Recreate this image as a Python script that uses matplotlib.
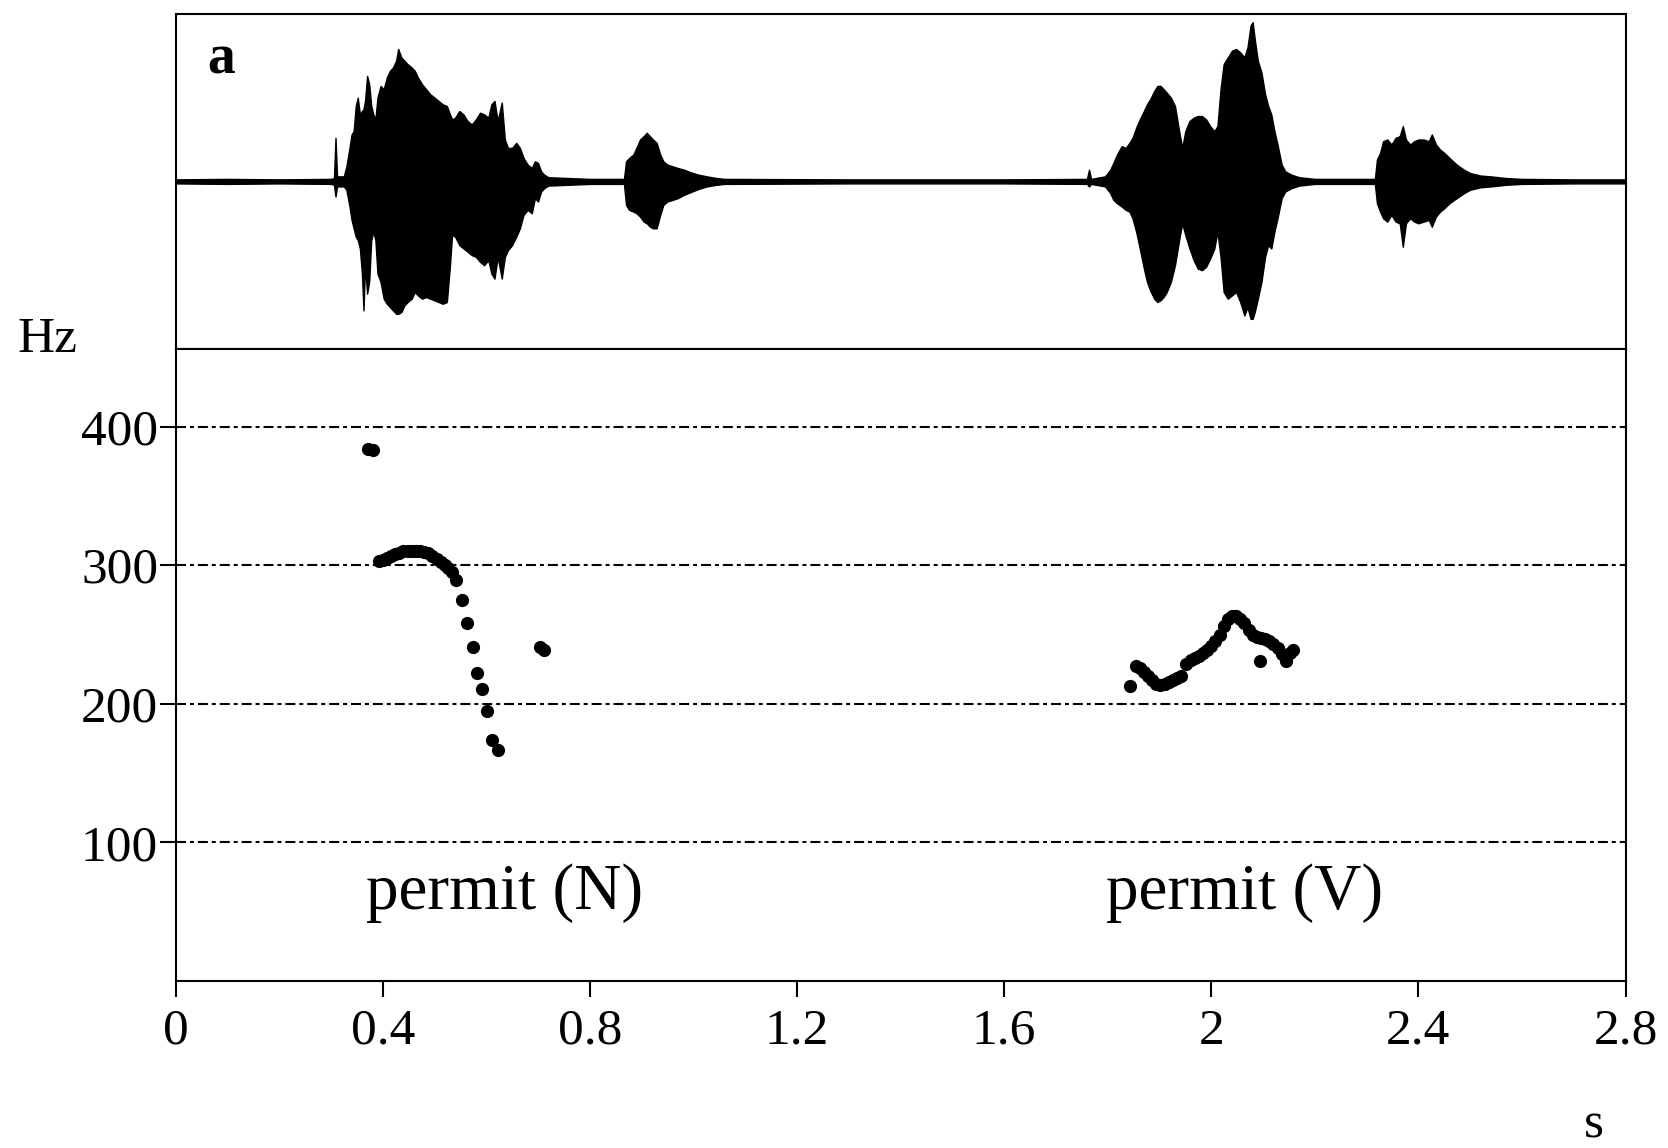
import matplotlib
matplotlib.use("Agg")
import matplotlib.pyplot as plt

plt.rcParams['font.family'] = ['Liberation Serif', 'DejaVu Serif']

# waveform envelope (time in s, upper / lower amplitude, normalised to +-1)
# each line of wave_t matches the same line in wave_top and wave_bot
wave_t = [
    0.000, 0.100, 0.200, 0.300, 0.306, 0.309, 0.312, 0.325, 0.330, 0.336,
    0.340, 0.344, 0.348, 0.352, 0.356, 0.360, 0.363, 0.366, 0.370, 0.374,
    0.378, 0.382, 0.386, 0.390, 0.396, 0.402, 0.408, 0.414, 0.420, 0.426,
    0.430, 0.436, 0.442, 0.448, 0.456, 0.462, 0.468, 0.476, 0.484, 0.492,
    0.500, 0.508, 0.516, 0.524, 0.530, 0.534, 0.540, 0.548, 0.556, 0.564,
    0.572, 0.580, 0.588, 0.596, 0.604, 0.610, 0.616, 0.622, 0.630, 0.636,
    0.642, 0.650, 0.658, 0.665, 0.672, 0.680, 0.688, 0.694, 0.700, 0.706,
    0.712, 0.720, 0.800, 0.866, 0.870, 0.876, 0.884, 0.890, 0.897, 0.904,
    0.910, 0.916, 0.922, 0.929, 0.936, 0.942, 0.950, 0.960, 0.970, 0.982,
    0.994, 1.010, 1.026, 1.045, 1.060, 1.300, 1.600, 1.760, 1.764, 1.768,
    1.795, 1.805, 1.811, 1.818, 1.827, 1.835, 1.842, 1.848, 1.855, 1.862,
    1.870, 1.876, 1.882, 1.890, 1.896, 1.902, 1.908, 1.914, 1.922, 1.930,
    1.938, 1.944, 1.950, 1.958, 1.966, 1.974, 1.982, 1.990, 1.998, 2.006,
    2.012, 2.018, 2.024, 2.032, 2.040, 2.048, 2.056, 2.064, 2.070, 2.076,
    2.080, 2.084, 2.090, 2.097, 2.104, 2.110, 2.116, 2.122, 2.128, 2.136,
    2.143, 2.155, 2.170, 2.200, 2.316, 2.320, 2.326, 2.332, 2.340, 2.348,
    2.356, 2.364, 2.370, 2.376, 2.384, 2.392, 2.400, 2.410, 2.420, 2.426,
    2.434, 2.442, 2.450, 2.460, 2.474, 2.488, 2.500, 2.520, 2.540, 2.570,
    2.600, 2.700, 2.800,
]
wave_top = [
    0.012, 0.015, 0.012, 0.015, 0.02, 0.26, 0.03, 0.03, 0.09, 0.20,
    0.28, 0.30, 0.45, 0.50, 0.40, 0.42, 0.43, 0.48, 0.63, 0.58,
    0.45, 0.40, 0.37, 0.50, 0.57, 0.55, 0.62, 0.66, 0.68, 0.72,
    0.79, 0.74, 0.72, 0.70, 0.68, 0.66, 0.62, 0.58, 0.55, 0.52,
    0.50, 0.48, 0.46, 0.45, 0.40, 0.37, 0.38, 0.42, 0.40, 0.36,
    0.34, 0.37, 0.41, 0.40, 0.38, 0.46, 0.48, 0.36, 0.47, 0.25,
    0.20, 0.20, 0.23, 0.20, 0.14, 0.10, 0.08, 0.12, 0.11, 0.06,
    0.04, 0.025, 0.015, 0.015, 0.12, 0.14, 0.16, 0.20, 0.25, 0.27,
    0.29, 0.27, 0.25, 0.23, 0.16, 0.12, 0.10, 0.09, 0.08, 0.07,
    0.055, 0.04, 0.03, 0.02, 0.015, 0.012, 0.012, 0.015, 0.07, 0.015,
    0.03, 0.07, 0.11, 0.16, 0.21, 0.20, 0.23, 0.26, 0.32, 0.37,
    0.42, 0.46, 0.49, 0.54, 0.57, 0.57, 0.55, 0.53, 0.50, 0.45,
    0.30, 0.20, 0.30, 0.36, 0.38, 0.39, 0.39, 0.37, 0.33, 0.30,
    0.33, 0.55, 0.70, 0.74, 0.78, 0.79, 0.77, 0.74, 0.80, 0.93,
    0.95, 0.85, 0.72, 0.65, 0.52, 0.45, 0.40, 0.30, 0.22, 0.10,
    0.06, 0.04, 0.025, 0.015, 0.015, 0.13, 0.17, 0.24, 0.25, 0.22,
    0.26, 0.27, 0.33, 0.25, 0.22, 0.24, 0.25, 0.25, 0.24, 0.28,
    0.22, 0.19, 0.17, 0.14, 0.10, 0.07, 0.05, 0.035, 0.03, 0.02,
    0.015, 0.012, 0.012,
]
wave_bot = [
    -0.012, -0.015, -0.012, -0.015, -0.02, -0.09, -0.03, -0.03, -0.05, -0.15,
    -0.23, -0.28, -0.33, -0.35, -0.40, -0.55, -0.77, -0.50, -0.67, -0.60,
    -0.35, -0.30, -0.35, -0.55, -0.60, -0.70, -0.73, -0.75, -0.77, -0.79,
    -0.79, -0.78, -0.74, -0.72, -0.70, -0.66, -0.68, -0.70, -0.69, -0.70,
    -0.71, -0.72, -0.73, -0.72, -0.50, -0.32, -0.33, -0.38, -0.40, -0.42,
    -0.44, -0.45, -0.48, -0.50, -0.47, -0.55, -0.58, -0.45, -0.58, -0.45,
    -0.41, -0.38, -0.33, -0.28, -0.20, -0.17, -0.19, -0.10, -0.12, -0.06,
    -0.04, -0.025, -0.015, -0.015, -0.14, -0.17, -0.18, -0.19, -0.21, -0.24,
    -0.25, -0.27, -0.28, -0.28, -0.20, -0.14, -0.12, -0.11, -0.10, -0.08,
    -0.065, -0.045, -0.03, -0.02, -0.015, -0.012, -0.012, -0.015, -0.03, -0.015,
    -0.03, -0.07, -0.11, -0.13, -0.15, -0.17, -0.18, -0.22, -0.30, -0.40,
    -0.52, -0.60, -0.65, -0.70, -0.72, -0.71, -0.69, -0.66, -0.60, -0.50,
    -0.35, -0.25, -0.32, -0.40, -0.47, -0.52, -0.53, -0.51, -0.46, -0.40,
    -0.30, -0.45, -0.66, -0.70, -0.68, -0.66, -0.72, -0.80, -0.75, -0.82,
    -0.82, -0.78, -0.70, -0.60, -0.45, -0.38, -0.40, -0.30, -0.22, -0.10,
    -0.06, -0.04, -0.025, -0.015, -0.015, -0.13, -0.18, -0.22, -0.24, -0.20,
    -0.24, -0.25, -0.39, -0.25, -0.22, -0.24, -0.25, -0.24, -0.23, -0.27,
    -0.21, -0.18, -0.16, -0.13, -0.10, -0.07, -0.05, -0.035, -0.03, -0.02,
    -0.015, -0.012, -0.012,
]

# F0 track, permit (N)
noun_t = [0.371, 0.381, 0.392, 0.400, 0.408, 0.416, 0.424, 0.432, 0.440, 0.448, 0.456,
          0.464, 0.472, 0.480, 0.488, 0.496, 0.504, 0.512, 0.520, 0.527, 0.534, 0.541,
          0.554, 0.562, 0.574, 0.583, 0.591, 0.602, 0.612, 0.623, 0.703, 0.712]
noun_f0 = [384, 383, 303, 304, 305, 306.5, 308, 309, 310, 310.5, 310.5,
           310.5, 310, 309.5, 308.5, 306.5, 304.5, 302.5, 300.5, 298, 295, 289,
           274.6, 258, 241, 222, 210.5, 195, 174, 167, 241, 239]

# F0 track, permit (V)
verb_t = [1.843, 1.854, 1.862, 1.870, 1.878, 1.886, 1.894, 1.902, 1.910, 1.918, 1.926,
          1.934, 1.942, 1.952, 1.960, 1.968, 1.976, 1.984, 1.992, 2.000, 2.008, 2.016,
          2.024, 2.032, 2.040, 2.048, 2.056, 2.064, 2.072, 2.080, 2.088, 2.096, 2.104,
          2.112, 2.120, 2.128, 2.136, 2.144, 2.152, 2.158, 2.094]
verb_f0 = [212.5, 227, 226, 223, 220, 217, 214.5, 213.5, 214, 215.5, 217,
           218.5, 220, 229, 231.5, 233, 234.5, 236.5, 239, 241.5, 245, 250,
           256, 261, 263, 263, 261.5, 258, 253, 250, 248.5, 247.5, 246.5,
           245.5, 243, 240, 236, 231, 236.5, 239, 231]

x_ticks = [0, 0.4, 0.8, 1.2, 1.6, 2.0, 2.4, 2.8]
x_tick_labels = ['0', '0.4', '0.8', '1.2', '1.6', '2', '2.4', '2.8']
y_ticks = [100, 200, 300, 400]

fig = plt.figure(figsize=(16.68, 11.48), dpi=100)
left, width = 175.5 / 1668, 1450 / 1668
ax_w = fig.add_axes([left, 1 - 349 / 1148, width, (349 - 13.8) / 1148])
ax_f = fig.add_axes([left, 1 - 981 / 1148, width, (981 - 349) / 1148])

# waveform
ax_w.fill_between(wave_t, wave_bot, wave_top, color='black', lw=1.0, edgecolor='black')
ax_w.plot(wave_t, [0] * len(wave_t), color='black', lw=1.6)
ax_w.set_xlim(0, 2.8)
ax_w.set_ylim(-1, 1)
ax_w.set_xticks([])
ax_w.set_yticks([])
ax_w.text(0.022, 0.822, 'a', transform=ax_w.transAxes, fontsize=40,
          fontweight='bold', ha='left', va='baseline')

# F0 panel
grid_style = (0, (4.8, 1.9, 1.9, 1.9))
for v in y_ticks:
    ax_f.axhline(v, color='black', lw=1.5, linestyle=grid_style, zorder=1)
ax_f.plot(noun_t, noun_f0, 'o', color='black', ms=9.5, mew=0, zorder=3)
ax_f.plot(verb_t, verb_f0, 'o', color='black', ms=9.5, mew=0, zorder=3)
ax_f.set_xlim(0, 2.8)
ax_f.set_ylim(0, 456)
ax_f.set_xticks(x_ticks)
ax_f.set_xticklabels(x_tick_labels)
ax_f.set_yticks(y_ticks)
ax_f.tick_params(direction='out', length=11.5, width=1.5, labelsize=37, pad=8)
ax_f.tick_params(axis='y', pad=1)
ax_f.text(0.367, 52, 'permit (N)', fontsize=47, ha='left', va='baseline')
ax_f.text(1.797, 52, 'permit (V)', fontsize=47, ha='left', va='baseline')

for ax in (ax_w, ax_f):
    for sp in ax.spines.values():
        sp.set_linewidth(1.5)

fig.text(47.5 / 1668, 1 - 351.7 / 1148, 'Hz', fontsize=37, ha='center', va='baseline')
fig.text(1594 / 1668, 1 - 1137 / 1148, 's', fontsize=37, ha='center', va='baseline')

fig.savefig('out.png', dpi=100)
